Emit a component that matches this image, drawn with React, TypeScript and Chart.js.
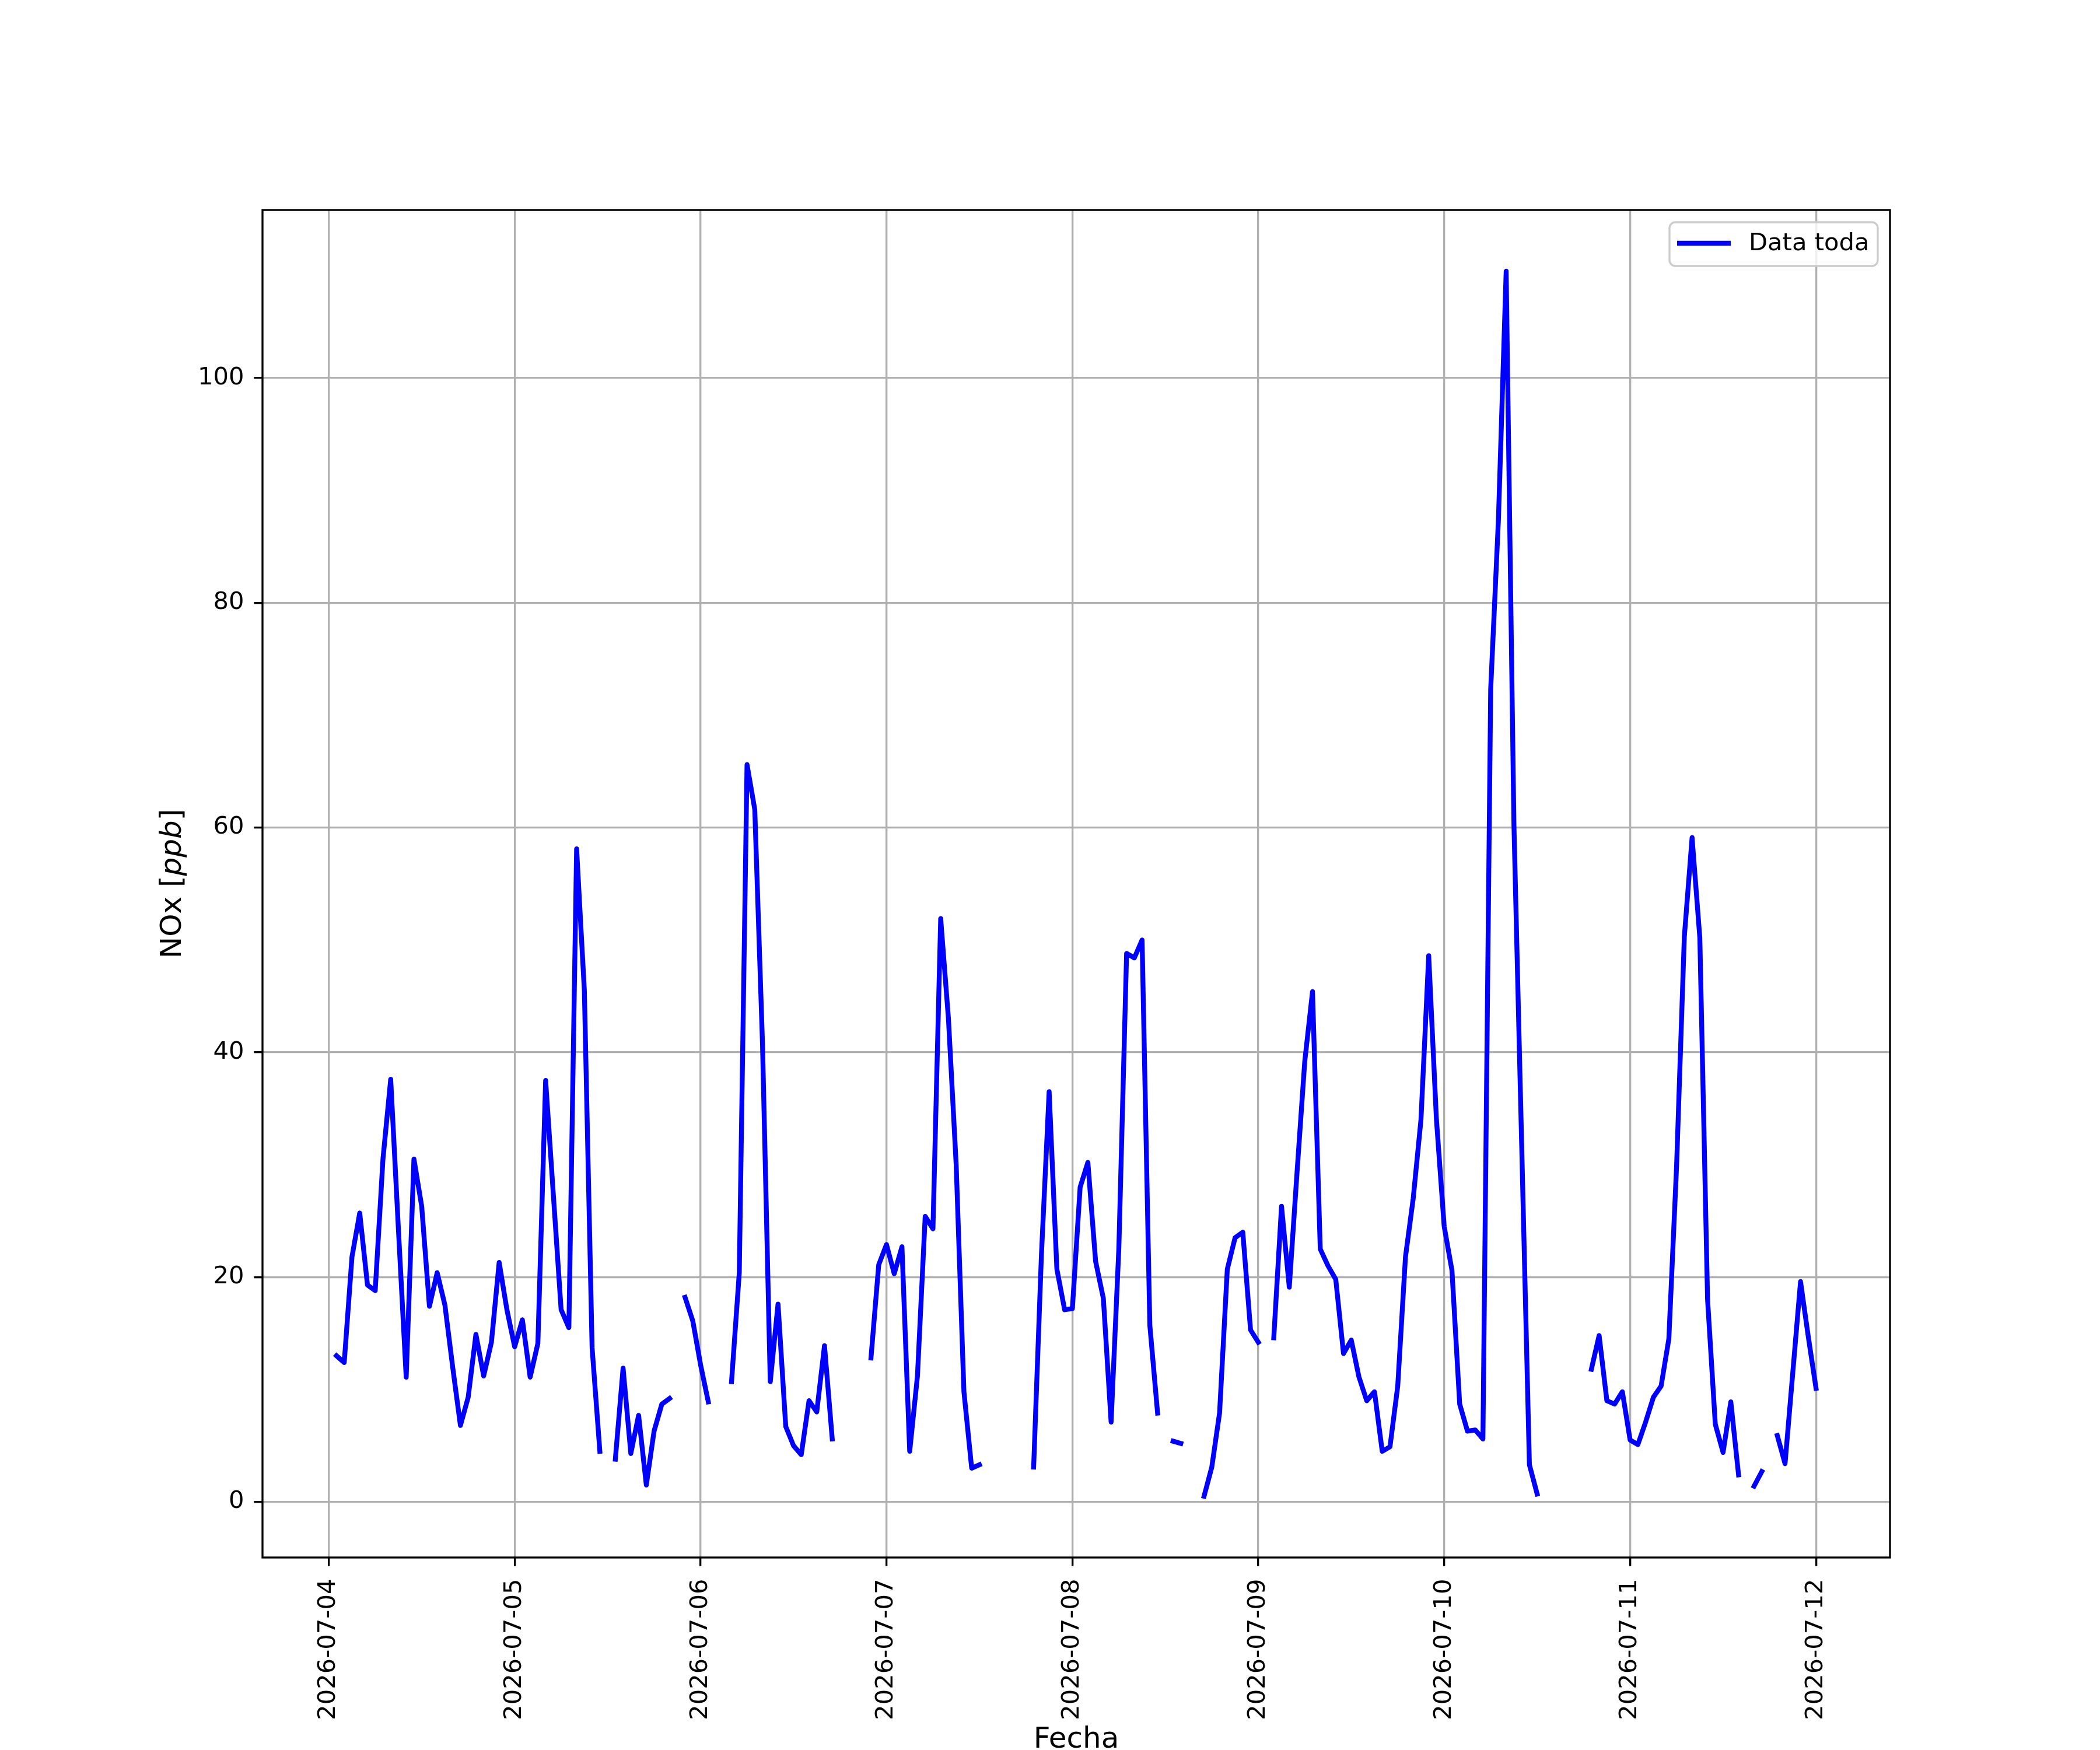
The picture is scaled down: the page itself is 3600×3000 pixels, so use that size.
import { useEffect, useRef } from "react";
import { Chart, registerables, type Plugin } from "chart.js";

Chart.register(...registerables);

// hourly NOx [ppb]; each day holds 01:00 .. 24:00 (the next midnight), null = no data
const day0704 = [13.0, 12.4, 21.8, 25.7, 19.3, 18.8, 30.5, 37.6, 24.2, 11.1, 30.5, 26.3, 17.4, 20.4, 17.5, 12.0, 6.8, 9.3, 14.9, 11.2, 14.2, 21.3, 17.1, 13.8];
const day0705 = [16.2, 11.1, 14.1, 37.5, 27.3, 17.1, 15.5, 58.1, 45.5, 13.7, 4.5, null, 3.8, 11.9, 4.3, 7.7, 1.5, 6.3, 8.7, 9.2, null, 18.2, 16.1, 12.2];
const day0706 = [8.9, null, null, 10.7, 20.4, 65.6, 61.6, 40.7, 10.7, 17.6, 6.7, 5.0, 4.2, 9.0, 8.0, 13.9, 5.6, null, null, null, null, 12.8, 21.1, 22.9];
const day0707 = [20.3, 22.7, 4.5, 11.2, 25.4, 24.3, 51.9, 43.0, 30.0, 9.8, 3.0, 3.3, null, null, null, null, null, null, 3.1, 21.9, 36.5, 20.7, 17.1, 17.2];
const day0708 = [28.0, 30.2, 21.4, 18.1, 7.1, 22.6, 48.8, 48.4, 50.0, 15.7, 7.9, null, 5.4, 5.2, null, null, 0.5, 3.1, 7.9, 20.7, 23.5, 24.0, 15.3, 14.2];
const day0709 = [null, 14.6, 26.3, 19.1, 29.3, 39.2, 45.4, 22.5, 21.0, 19.8, 13.2, 14.4, 11.1, 9.0, 9.8, 4.5, 4.9, 10.3, 21.8, 27.0, 34.0, 48.6, 34.0, 24.5];
const day0710 = [20.6, 8.7, 6.3, 6.4, 5.6, 72.3, 87.4, 109.5, 60.3, 31.8, 3.3, 0.7, null, null, null, null, null, null, 11.8, 14.8, 9.0, 8.7, 9.8, 5.5];
const day0711 = [5.1, 7.1, 9.3, 10.3, 14.5, 29.9, 50.3, 59.1, 50.2, 18.0, 6.9, 4.4, 8.9, 2.4, null, 1.4, 2.7, null, 5.9, 3.4, 11.5, 19.6, 14.7, 10.1];

const days = [day0704, day0705, day0706, day0707, day0708, day0709, day0710, day0711];

const dateLabels = ["2026-07-04", "2026-07-05", "2026-07-06", "2026-07-07", "2026-07-08", "2026-07-09", "2026-07-10", "2026-07-11", "2026-07-12"];
const yTicks = [0, 20, 40, 60, 80, 100];

const FONT = "DejaVu Sans";
const FS = 41.67; // 10pt at 300 dpi
const FS_TITLE = 50; // 12pt
const LW = 3.33; // 0.8pt

// x in hours since 2026-07-04 00:00
const points = days.flatMap((vals, d) => vals.map((v, i) => ({ x: d * 24 + i + 1, y: v })));

const decorations: Plugin<"line"> = {
  id: "decorations",
  afterDatasetsDraw(chart) {
    const { ctx, chartArea: a } = chart;
    ctx.save();
    ctx.strokeStyle = "#000000";
    ctx.lineWidth = LW;
    ctx.strokeRect(a.left, a.top, a.right - a.left, a.bottom - a.top);
    ctx.restore();
  },
  afterDraw(chart) {
    const { ctx, chartArea: a } = chart;
    ctx.save();

    // legend
    const lx = 2862, ly = 381, lw = 357, lh = 75, r = 10;
    ctx.beginPath();
    ctx.roundRect(lx, ly, lw, lh, r);
    ctx.fillStyle = "rgba(255,255,255,0.8)";
    ctx.fill();
    ctx.strokeStyle = "#cccccc";
    ctx.lineWidth = LW;
    ctx.stroke();
    ctx.beginPath();
    ctx.moveTo(2875, 417);
    ctx.lineTo(2967, 417);
    ctx.strokeStyle = "#0000ff";
    ctx.lineWidth = 8.33;
    ctx.stroke();
    ctx.fillStyle = "#000000";
    ctx.font = `${FS}px "${FONT}"`;
    ctx.textAlign = "left";
    ctx.textBaseline = "middle";
    ctx.fillText("Data toda", 2998, 418);

    // x title
    ctx.font = `${FS_TITLE}px "${FONT}"`;
    ctx.textAlign = "center";
    ctx.textBaseline = "top";
    ctx.fillText("Fecha", (a.left + a.right) / 2, 2958);

    // y title, "ppb" in italic
    const parts: [string, string][] = [
      ["NOx [", `${FS_TITLE}px "${FONT}"`],
      ["ppb", `italic ${FS_TITLE}px "${FONT}"`],
      ["]", `${FS_TITLE}px "${FONT}"`],
    ];
    let total = 0;
    const widths = parts.map(([t, f]) => {
      ctx.font = f;
      const w = ctx.measureText(t).width;
      total += w;
      return w;
    });
    ctx.translate(297, (a.top + a.bottom) / 2);
    ctx.rotate(-Math.PI / 2);
    ctx.textAlign = "left";
    ctx.textBaseline = "middle";
    let x = -total / 2;
    parts.forEach(([t, f], i) => {
      ctx.font = f;
      ctx.fillText(t, x, 0);
      x += widths[i];
    });
    ctx.restore();
  },
};

export default function App() {
  const canvasRef = useRef<HTMLCanvasElement>(null);

  useEffect(() => {
    document.body.style.margin = "0";
    if (!canvasRef.current) return;
    const chart = new Chart(canvasRef.current, {
      type: "line",
      data: {
        datasets: [
          {
            label: "Data toda",
            data: points,
            borderColor: "#0000ff",
            backgroundColor: "#0000ff",
            borderWidth: 8.33,
            borderJoinStyle: "round",
            borderCapStyle: "square",
            pointRadius: 0,
            tension: 0,
            spanGaps: false,
            fill: false,
          },
        ],
      },
      options: {
        responsive: false,
        animation: false,
        devicePixelRatio: 1,
        layout: { padding: { left: 0, top: 360, right: 360, bottom: 0 } },
        plugins: { legend: { display: false }, tooltip: { enabled: false } },
        scales: {
          x: {
            type: "linear",
            min: -8.55,
            max: 201.55,
            afterBuildTicks: (s) => {
              s.ticks = dateLabels.map((_, i) => ({ value: i * 24 }));
            },
            afterFit: (s) => {
              s.height = 330;
            },
            ticks: {
              autoSkip: false,
              minRotation: 90,
              maxRotation: 90,
              padding: 22,
              color: "#000000",
              font: { family: FONT, size: FS },
              callback: (v) => dateLabels[Math.round(Number(v) / 24)] ?? "",
            },
            grid: { color: "#b0b0b0", lineWidth: LW, tickColor: "#000000", tickLength: 14.6, tickWidth: LW },
            border: { display: false },
          },
          y: {
            type: "linear",
            min: -4.95,
            max: 114.95,
            afterBuildTicks: (s) => {
              s.ticks = yTicks.map((v) => ({ value: v }));
            },
            afterFit: (s) => {
              s.width = 450;
            },
            ticks: {
              padding: 17,
              color: "#000000",
              font: { family: FONT, size: FS },
              callback: (v) => String(v),
            },
            grid: { color: "#b0b0b0", lineWidth: LW, tickColor: "#000000", tickLength: 14.6, tickWidth: LW },
            border: { display: false },
          },
        },
      },
      plugins: [decorations],
    });
    return () => chart.destroy();
  }, []);

  return (
    <div style={{ position: "absolute", left: 0, top: 0, width: 3600, height: 3000, background: "#ffffff" }}>
      <canvas ref={canvasRef} width={3600} height={3000} style={{ display: "block", width: 3600, height: 3000 }} />
    </div>
  );
}
